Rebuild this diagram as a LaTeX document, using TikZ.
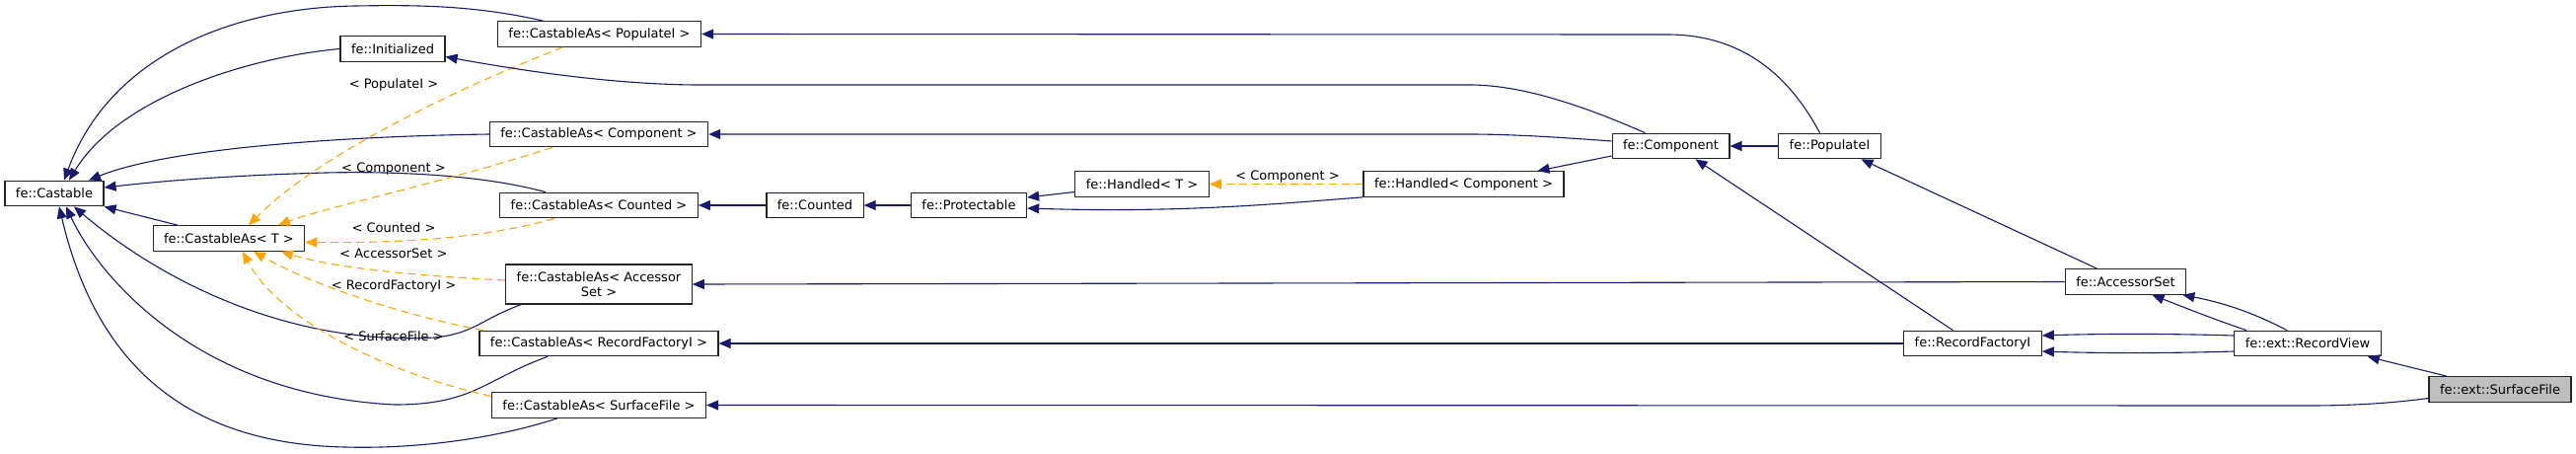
\documentclass[tikz,border=0pt]{standalone}
\usepackage{fontspec}
\setmainfont{DejaVu Sans}
\usetikzlibrary{arrows.meta}

\definecolor{edgeblue}{HTML}{191970}
\definecolor{tmplorange}{HTML}{FFA500}
\definecolor{focusgray}{HTML}{BFBFBF}

\tikzset{
	cls/.style={draw=black!85, line width=1.2pt, fill=white, minimum height=25.5pt,
		inner xsep=11pt, inner ysep=0pt, font=\fontsize{13}{15}\selectfont},
	lbl/.style={inner sep=0pt, font=\fontsize{13}{15}\selectfont},
	inh/.style={draw=edgeblue, line width=1.1pt, -{Triangle[length=12pt,width=10pt]}},
	tmpl/.style={draw=tmplorange, line width=1.1pt, dash pattern=on 8pt off 5pt,
		-{Triangle[length=12pt,width=10pt]}}
}

\begin{document}
\begin{tikzpicture}[x=1pt,y=-1pt]

	% Rahmen
	\useasboundingbox (0,0) rectangle (2611,459);

	% Basisklassen links
	\node[cls] (castable) at (55,196) {fe::Castable};
	\node[cls] (castT) at (232,241.5) {fe::CastableAs< T >};
	\node[cls] (init) at (398,49.5) {fe::Initialized};

	% Template-Instanzen
	\node[cls] (castPop) at (607.5,34.5) {fe::CastableAs< PopulateI >};
	\node[cls] (castComp) at (607,136) {fe::CastableAs< Component >};
	\node[cls] (castCnt) at (607,208) {fe::CastableAs< Counted >};
	\node[cls, align=center, minimum height=40pt] (castAcc) at (607,288) {fe::CastableAs< Accessor\\Set >};
	\node[cls] (castRF) at (607,348) {fe::CastableAs< RecordFactoryI >};
	\node[cls] (castSF) at (607,410.5) {fe::CastableAs< SurfaceFile >};

	% Mitte
	\node[cls] (counted) at (826,208) {fe::Counted};
	\node[cls] (protectable) at (982,208) {fe::Protectable};
	\node[cls] (handledT) at (1157.5,186.5) {fe::Handled< T >};
	\node[cls] (handledComp) at (1483.5,186.5) {fe::Handled< Component >};
	\node[cls] (component) at (1693.5,148) {fe::Component};
	\node[cls] (populate) at (1854.5,148) {fe::PopulateI};

	% rechts
	\node[cls] (accessorSet) at (2154.5,285.5) {fe::AccessorSet};
	\node[cls] (recordFactory) at (1999.5,348) {fe::RecordFactoryI};
	\node[cls] (recordView) at (2339,348) {fe::ext::RecordView};
	\node[cls, fill=focusgray] (surfaceFile) at (2534,394.5) {fe::ext::SurfaceFile};

	% Vererbung nach fe::Castable
	\draw[inh] ([xshift=-57pt]castPop.north) .. controls (480,5) and (420,5) .. (360,6)
		.. controls (230,8) and (110,60) .. ([xshift=10pt]castable.north);
	\draw[inh] (init.west) .. controls (250,58) and (120,100) .. ([xshift=15pt]castable.north);
	\draw[inh] (castComp.west) .. controls (350,138) and (170,150) .. ([xshift=35pt]castable.north);
	\draw[inh] ([xshift=-54pt]castCnt.north) .. controls (500,180) and (420,173) .. (330,175)
		.. controls (220,178) and (150,185) .. ([yshift=6pt]castable.east);
	\draw[inh] ([xshift=-52pt]castT.north) -- (castable.south east);
	\draw[inh] ([xshift=-79pt]castAcc.south) .. controls (485,325) and (480,338) .. (440,342)
		.. controls (300,350) and (170,290) .. ([xshift=20pt]castable.south);
	\draw[inh] ([xshift=-52pt]castRF.south) .. controls (490,385) and (480,410) .. (400,410)
		.. controls (200,400) and (100,280) .. ([xshift=12pt]castable.south);
	\draw[inh] ([xshift=-42pt]castSF.south) .. controls (500,445) and (420,455) .. (350,453)
		.. controls (200,450) and (100,380) .. ([xshift=5pt]castable.south);

	% Template-Kanten
	\draw[tmpl] ([xshift=-37pt]castPop.south) .. controls (450,95) and (320,160) .. ([xshift=20pt]castT.north);
	\draw[tmpl] ([xshift=-47pt]castComp.south) .. controls (450,185) and (330,210) .. ([xshift=50pt]castT.north);
	\draw[tmpl] ([xshift=-45pt]castCnt.south) .. controls (480,245) and (380,246) .. ([yshift=-4pt]castT.east);
	\draw[tmpl] ([yshift=4pt]castAcc.west) .. controls (430,280) and (340,272) .. ([xshift=53pt]castT.south);
	\draw[tmpl] ([xshift=-117pt]castRF.north) .. controls (400,318) and (310,285) .. ([xshift=25pt]castT.south);
	\draw[tmpl] ([yshift=9pt]castSF.west) .. controls (380,375) and (280,320) .. ([xshift=14pt]castT.south);

	% Template-Beschriftung
	\node[lbl] (lPop) at (399,86) {< PopulateI >};
	\node[lbl] (lComp) at (399,171) {< Component >};
	\node[lbl] (lCnt) at (399,231) {< Counted >};
	\node[lbl] (lAcc) at (399,257) {< AccessorSet >};
	\node[lbl] (lRF) at (399,290) {< RecordFactoryI >};
	\node[lbl] (lSF) at (399,341) {< SurfaceFile >};

	% lange Kanten nach links
	\draw[inh] ([xshift=-10pt]populate.north) .. controls (1810,70) and (1760,35) .. (1690,35) -- (castPop.east);
	\draw[inh] ([xshift=-26pt]component.north) .. controls (1600,105) and (1540,86) .. (1490,86) -- (710,86)
		.. controls (620,86) and (520,70) .. ([yshift=-8pt]init.east);
	\draw[inh] ([yshift=5pt]component.west) .. controls (1580,139) and (1530,136) .. (1490,136) -- (castComp.east);
	\draw[inh] (accessorSet.west) -- (castAcc.east);
	\draw[inh] (recordFactory) -- (castRF);
	\draw[inh] ([yshift=-9pt]surfaceFile.west) .. controls (2420,409) and (2380,411) .. (2340,411) -- (castSF.east);

	% Counted / Protectable / Handled
	\draw[inh] (counted) -- (castCnt);
	\draw[inh] (protectable) -- (counted);
	\draw[inh] ([yshift=-8pt]handledT.west) -- ([yshift=8pt]protectable.east);
	\draw[inh] (handledComp.south west) .. controls (1300,206) and (1200,216) .. ([yshift=-3pt]protectable.east);
	\draw[tmpl] (handledComp) -- (handledT);
	\node[lbl] (lHandled) at (1305,179) {< Component >};
	\draw[inh] ([yshift=-10pt]component.west) -- ([xshift=75pt]handledComp.north);

	% rechte Seite
	\draw[inh] (populate) -- (component);
	\draw[inh] ([xshift=-20pt]recordFactory.north) -- ([xshift=25pt]component.south);
	\draw[inh] ([xshift=-29pt]accessorSet.north) -- ([xshift=32pt]populate.south);
	\draw[inh] ([xshift=-62pt]recordView.north) .. controls (2240,322) and (2210,310) .. ([xshift=27pt]accessorSet.south);
	\draw[inh] ([xshift=-21pt]recordView.north) .. controls (2290,320) and (2260,308) .. ([xshift=-4pt]accessorSet.south east);
	\draw[inh] ([yshift=8pt]recordView.west) .. controls (2200,338) and (2130,338) .. ([yshift=8pt]recordFactory.east);
	\draw[inh] ([yshift=-8pt]recordView.west) .. controls (2200,358) and (2130,358) .. ([yshift=-8pt]recordFactory.east);
	\draw[inh] ([xshift=-54pt]surfaceFile.north) -- ([xshift=-14pt]recordView.south east);

\end{tikzpicture}
\end{document}
